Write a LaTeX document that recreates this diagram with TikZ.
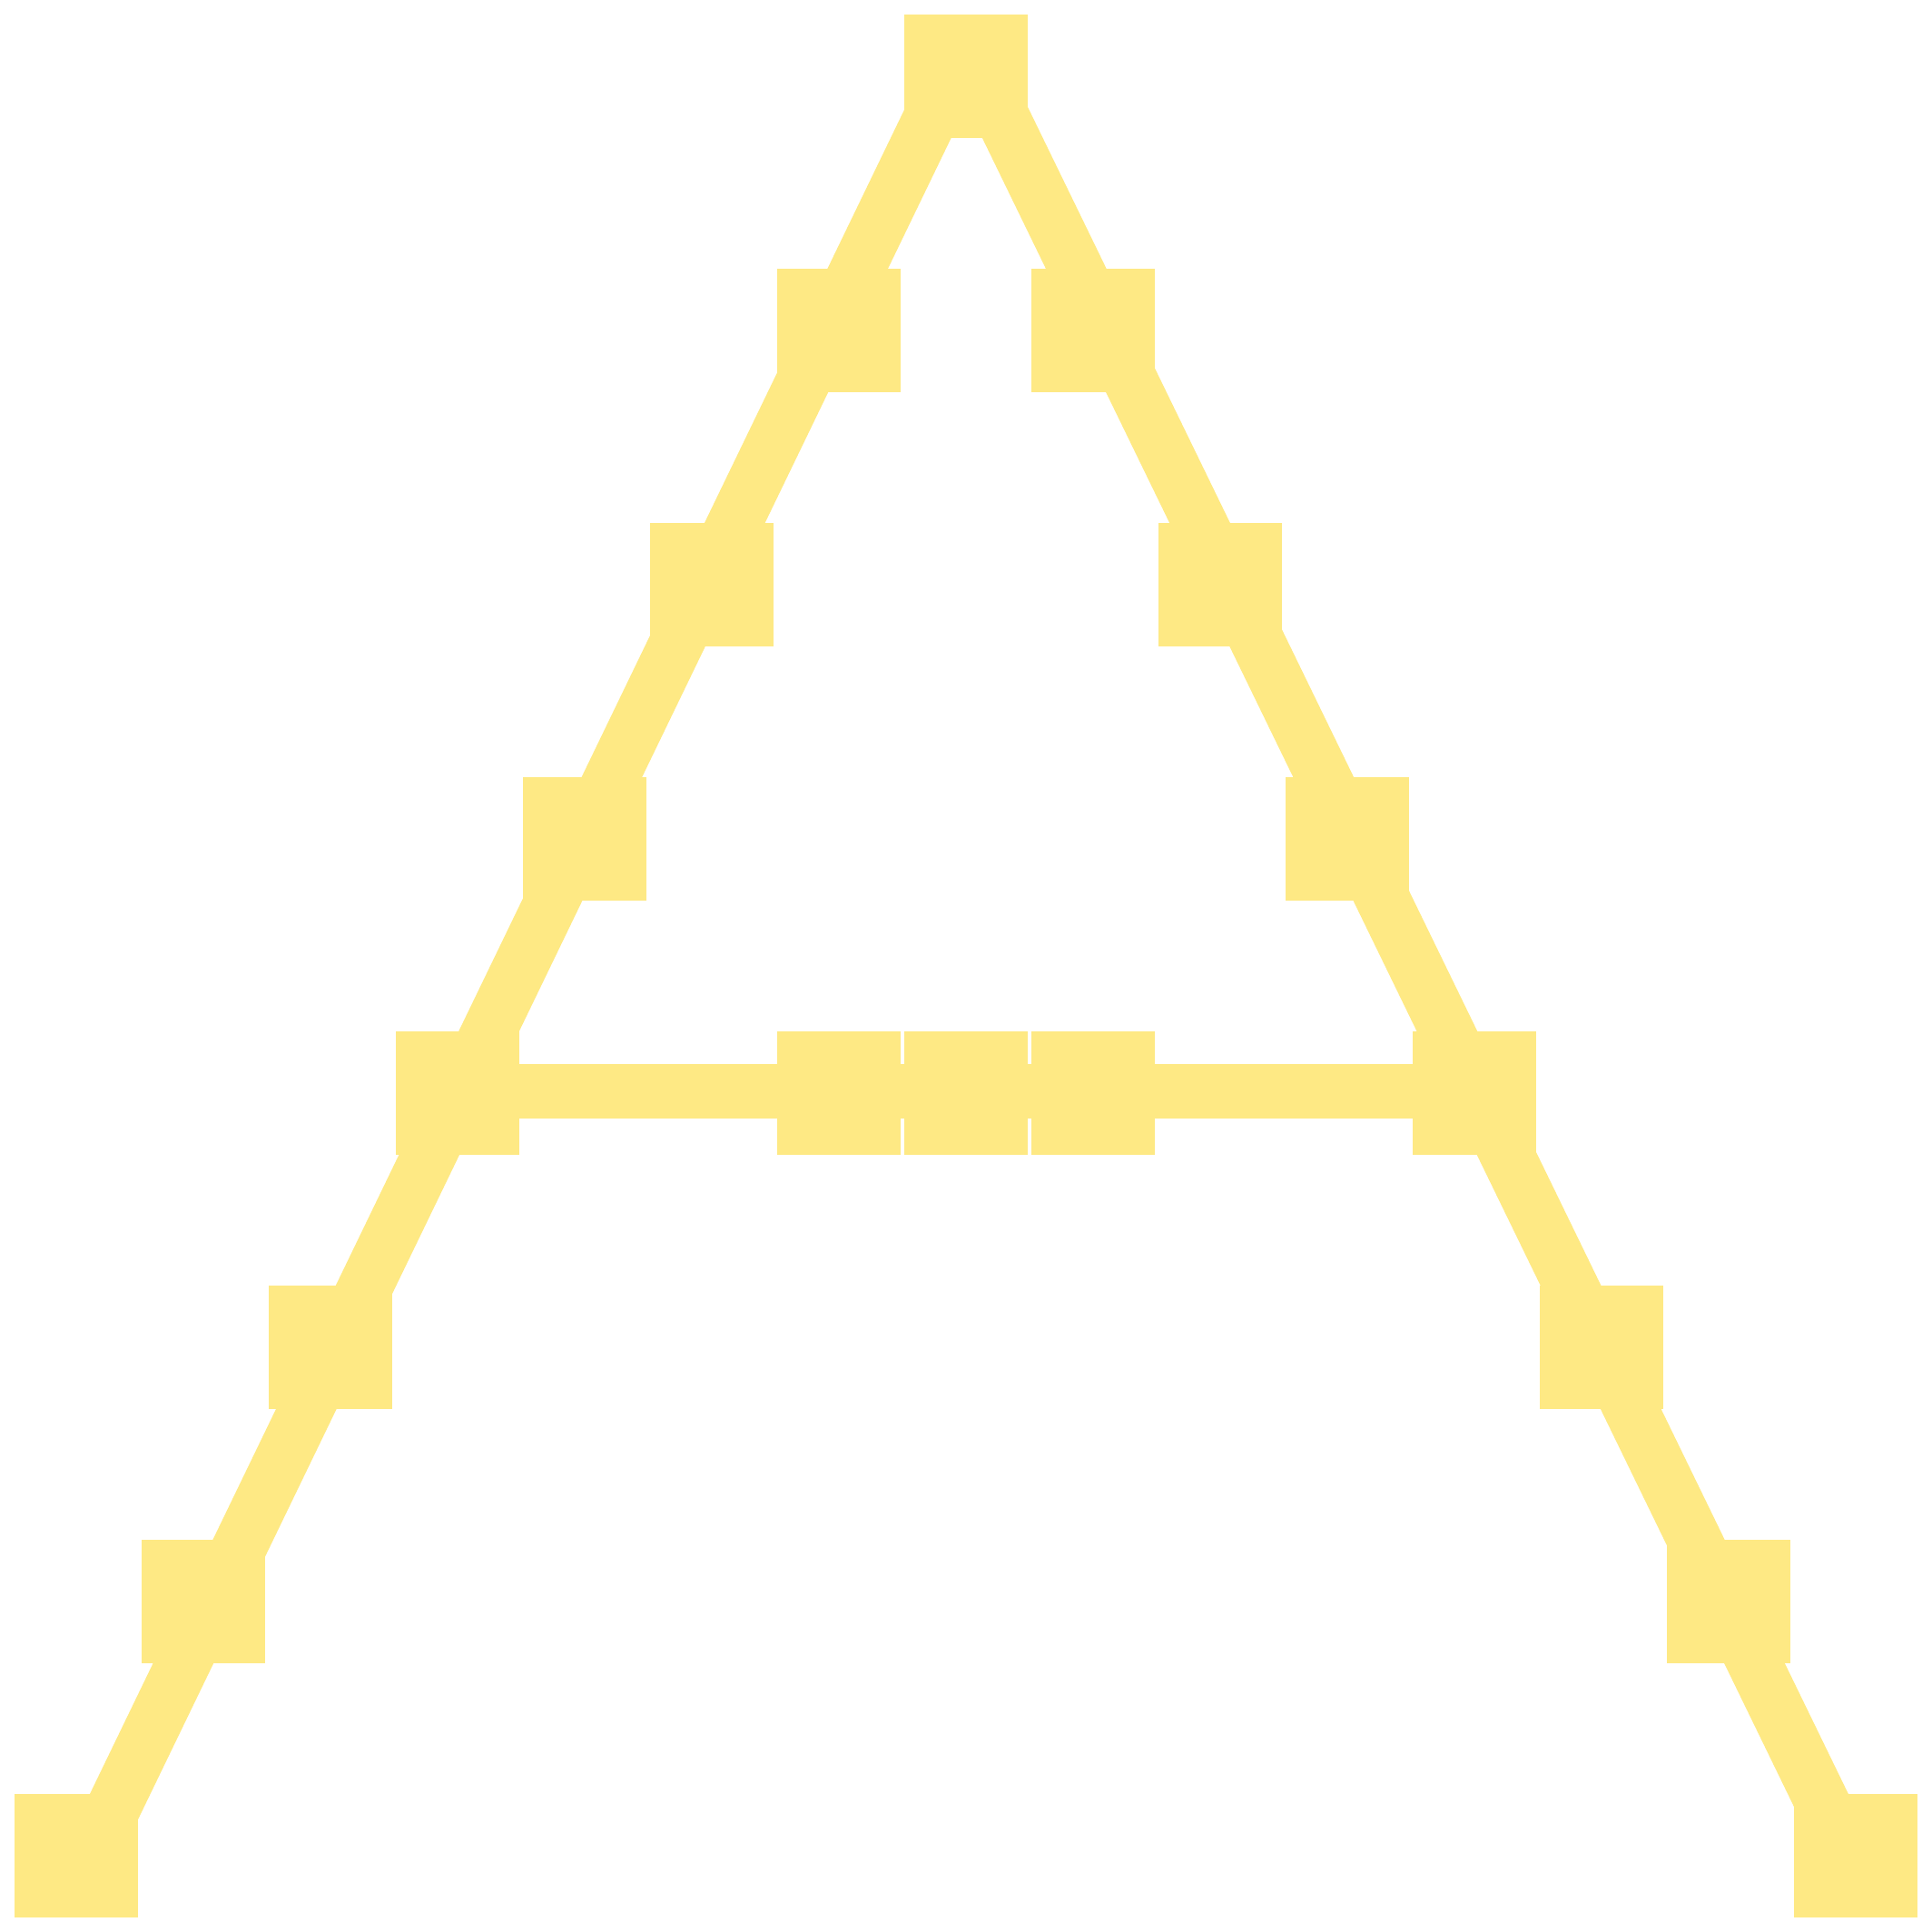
\documentclass[tikz,border=0pt]{standalone}
\definecolor{lemon}{RGB}{254,233,132}
\begin{document}
\begin{tikzpicture}[
    block/.style = {rectangle,fill=lemon,inner sep=0pt,minimum size=0.9714cm},
    bar/.style   = {draw=lemon,line width=0.4286cm}]
  \useasboundingbox (0,0) rectangle (15.2,15.2);
  % apex
  \node[block] (top) at (7.6,14.6) {};
  % left leg
  \node[block] (l1) at (6.6,12.6) {};
  \node[block] (l2) at (5.6,10.6) {};
  \node[block] (l3) at (4.6, 8.6) {};
  \node[block] (l4) at (3.6, 6.6) {};
  \node[block] (l5) at (2.6, 4.6) {};
  \node[block] (l6) at (1.6, 2.6) {};
  \node[block] (l7) at (0.6, 0.6) {};
  % right leg
  \node[block] (r1) at ( 8.6,12.6) {};
  \node[block] (r2) at ( 9.6,10.6) {};
  \node[block] (r3) at (10.6, 8.6) {};
  \node[block] (r4) at (11.6, 6.6) {};
  \node[block] (r5) at (12.6, 4.6) {};
  \node[block] (r6) at (13.6, 2.6) {};
  \node[block] (r7) at (14.6, 0.6) {};
  % crossbar
  \node[block] (m1) at (6.6,6.6) {};
  \node[block] (m2) at (7.6,6.6) {};
  \node[block] (m3) at (8.6,6.6) {};
  \draw[bar] ([xshift=-0.12cm]top.center) -- ([xshift=0.11cm]l7.center);
  \draw[bar] ([xshift=0.13cm]top.center)  -- ([xshift=-0.06cm]r7.center);
  \draw[bar] ([yshift=0.014cm]l4.center) -- ([yshift=0.014cm]r4.center);
\end{tikzpicture}
\end{document}
